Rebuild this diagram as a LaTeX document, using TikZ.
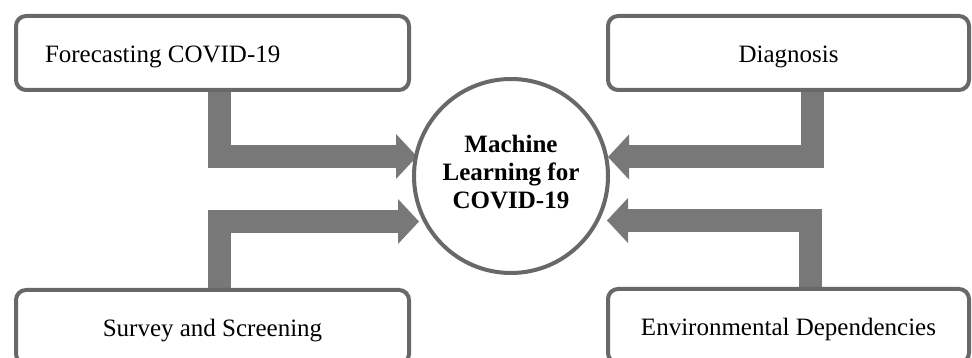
\documentclass[tikz,border=0pt]{standalone}
\usepackage{fontspec}
\setmainfont{Liberation Serif}
\usetikzlibrary{arrows.meta,calc}
\definecolor{arrowgray}{RGB}{120,120,120}
\definecolor{linegray}{RGB}{104,104,104}
\pgfdeclarelayer{bg}
\pgfdeclarelayer{arrowlayer}
\pgfsetlayers{bg,arrowlayer,main}
\begin{document}
\begin{tikzpicture}[x=1pt,y=1pt,
  box/.style={draw=linegray,line width=4pt,rounded corners=10pt,
    minimum width=#1,minimum height=74pt,inner sep=0pt,
    text height=20pt,text depth=0pt,font=\fontsize{25}{30}\selectfont},
  hub/.style={circle,draw=linegray,line width=4pt,minimum size=194pt,
    inner sep=0pt,outer sep=0pt,align=center,text depth=8pt,
    font=\fontsize{25}{28}\selectfont\bfseries},
  bigarrow/.style={draw=arrowgray,line width=23pt,line join=miter,
    -{Triangle[length=21pt,width=45pt,line width=0pt]}}]
\useasboundingbox (0,0) rectangle (972,358);
\begin{pgfonlayer}{bg}
\fill[white] (0,0) rectangle (972,358);
\end{pgfonlayer}
\clip (0,0) rectangle (972,358);

\node[box=393pt] (F) at (212.5,305) {\makebox[335pt][l]{Forecasting COVID-19}};
\node[box=393pt] (S) at (212.5,31) {Survey and Screening};
\node[box=361pt] (D) at (788.5,305) {Diagnosis};
\node[box=361pt] (E) at (788.5,32) {Environmental Dependencies};
\node[hub] (C) at (511,182) {Machine\\Learning for\\COVID-19};

\begin{pgfonlayer}{arrowlayer}
\draw[bigarrow] ([xshift=7pt]F.south) |- ($(C.center)+(-94,19.5)$);
\draw[bigarrow] ([xshift=7pt]S.north) |- ($(C.center)+(-92,-45.5)$);
\draw[bigarrow] ([xshift=23.5pt]D.south) |- ($(C.center)+(97,19)$);
\draw[bigarrow] ([xshift=22pt]E.north) |- ($(C.center)+(96,-44.5)$);
\end{pgfonlayer}
\end{tikzpicture}
\end{document}
